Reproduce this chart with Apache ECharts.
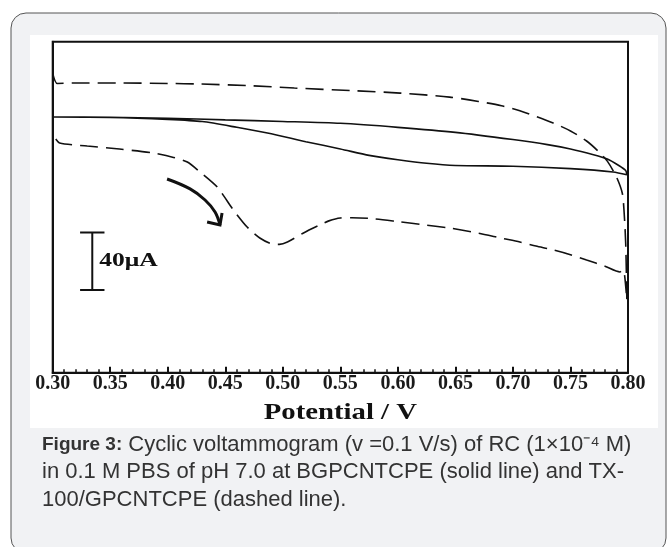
<!DOCTYPE html>
<html>
<head>
<meta charset="utf-8">
<script src="https://cdn.jsdelivr.net/npm/echarts@6/dist/echarts.min.js"></script>
<style>
  html, body { margin: 0; padding: 0; background: #fff; }
  #chart { width: 667px; height: 547px; }
</style>
</head>
<body>
<div id="chart"></div>
<script>
// potential axis (V)
const potentialTicks = [0.30, 0.35, 0.40, 0.45, 0.50, 0.55, 0.60, 0.65, 0.70, 0.75, 0.80];
const axisTitle = 'Potential / V';

// TX-100/GPCNTCPE (dashed): forward sweep then return sweep, [E / V, I / uA]
const dashedForward = [
  [0.300, 78.2], [0.304, 71.0], [0.320, 71.3], [0.360, 71.3], [0.400, 71.0],
  [0.428, 70.6], [0.470, 69.5], [0.510, 67.8], [0.560, 66.0], [0.602, 64.3],
  [0.645, 61.5], [0.670, 58.5], [0.690, 55.5], [0.706, 52.0], [0.735, 43.5],
  [0.750, 38.0], [0.764, 31.0], [0.774, 24.0], [0.782, 17.0], [0.790, 6.0],
  [0.795, -5.1], [0.7965, -16.9], [0.798, -40.0], [0.799, -79.5]
];
const dashedReturn = [
  [0.799, -79.5], [0.797, -62.0], [0.7955, -58.5], [0.793, -60.0], [0.780, -56.0],
  [0.764, -51.7], [0.750, -48.0], [0.735, -44.7], [0.720, -42.0], [0.706, -39.2],
  [0.690, -36.5], [0.670, -33.0], [0.645, -29.5], [0.624, -27.4], [0.600, -25.0],
  [0.576, -22.8], [0.560, -22.3], [0.550, -22.5], [0.540, -24.5], [0.532, -27.4],
  [0.518, -32.9], [0.504, -39.2], [0.497, -40.8], [0.491, -40.6], [0.480, -36.4],
  [0.469, -28.8], [0.457, -16.9], [0.443, -1.0], [0.428, 9.5], [0.417, 16.4],
  [0.405, 19.6], [0.387, 22.7], [0.358, 25.4], [0.330, 27.5], [0.306, 29.6],
  [0.302, 33.0], [0.300, 34.5]
];

// BGPCNTCPE (solid)
const solidForward = [
  [0.300, 47.7], [0.350, 47.5], [0.400, 46.8], [0.450, 45.7], [0.500, 44.6],
  [0.550, 43.3], [0.600, 40.5], [0.650, 37.0], [0.700, 32.0], [0.730, 28.5],
  [0.750, 25.5], [0.770, 21.5], [0.782, 18.5], [0.792, 14.0], [0.798, 10.5]
];
const solidReturn = [
  [0.798, 10.5], [0.799, 7.5], [0.787, 9.5], [0.750, 11.8], [0.700, 13.5],
  [0.650, 14.0], [0.625, 15.5], [0.600, 18.0], [0.575, 21.0], [0.550, 25.5],
  [0.520, 30.5], [0.490, 36.0], [0.460, 40.5], [0.430, 44.5], [0.400, 46.0],
  [0.350, 47.4], [0.300, 47.7]
];

// annotations (data coordinates)
const arrowShaft = [[0.3994, 4.6], [0.4194, -2.3], [0.4324, -10.0], [0.4411, -18.3], [0.4454, -27.4]];
const arrowHead = [[0.4342, -25.3], [0.4454, -27.4], [0.4472, -19.0]];
const scaleBarTop = -32.6;
const scaleBarSize = 40; // uA
const scaleBarX = 0.3344;
const scaleBarLabel = '40μA';

const captionBold = 'Figure 3:';
const captionLines = [
  ' Cyclic voltammogram (v =0.1 V/s) of RC (1×10⁻⁴ M)',
  'in 0.1 M PBS of pH 7.0 at BGPCNTCPE (solid line) and TX-',
  '100/GPCNTCPE (dashed line).'
];

const chartDom = document.getElementById('chart');
const chart = echarts.init(chartDom, null, { renderer: 'canvas' });

const serif = '"Liberation Serif", "Times New Roman", serif';
const sans = '"Liberation Sans", Arial, sans-serif';

const capHalf = 0.0106;
const scaleBarData = [
  [scaleBarX - capHalf, scaleBarTop], [scaleBarX + capHalf, scaleBarTop], null,
  [scaleBarX, scaleBarTop], [scaleBarX, scaleBarTop - scaleBarSize], null,
  [scaleBarX - capHalf, scaleBarTop - scaleBarSize], [scaleBarX + capHalf, scaleBarTop - scaleBarSize]
];

function lineSeries(data, opts) {
  return Object.assign({
    type: 'line',
    data: data,
    showSymbol: false,
    symbol: 'none',
    silent: true,
    animation: false,
    connectNulls: false,
    lineStyle: { color: '#111', width: 1.6 }
  }, opts);
}

const baseGraphic = [
  {
    type: 'rect', z: -10, silent: true,
    shape: { x: 11, y: 13, width: 655, height: 540, r: 15 },
    style: { fill: '#f1f2f4', stroke: '#555', lineWidth: 1 }
  },
  {
    type: 'rect', z: -9, silent: true,
    shape: { x: 30, y: 35, width: 628, height: 393 },
    style: { fill: '#fff' }
  },
  {
    type: 'text', x: 42, y: 431, silent: true,
    style: {
      text: '{b|' + captionBold + '}' + captionLines.join('\n'),
      font: '22px ' + sans,
      fill: '#333',
      lineHeight: 27.5,
      rich: {
        b: { fontWeight: 'bold', fontSize: 19, fontFamily: sans, fill: '#333', lineHeight: 27.5 }
      }
    }
  }
];

const option = {
  animation: false,
  backgroundColor: '#fff',
  graphic: baseGraphic,
  grid: {
    left: 52.7, right: 39, top: 41.7, bottom: 174.3,
    show: true, borderColor: '#111', borderWidth: 2, backgroundColor: 'transparent'
  },
  xAxis: {
    type: 'value',
    min: potentialTicks[0],
    max: potentialTicks[potentialTicks.length - 1],
    interval: 0.05,
    axisLine: { show: true, onZero: false, lineStyle: { color: '#111', width: 2 } },
    axisTick: { show: true, inside: true, length: 6, lineStyle: { color: '#111', width: 2 } },
    minorTick: { show: true, splitNumber: 5, length: 3.5, lineStyle: { color: '#111', width: 1.5 } },
    axisLabel: {
      margin: 1,
      fontFamily: serif, fontWeight: 'bold', fontSize: 20, color: '#1a1a1a',
      formatter: v => v.toFixed(2)
    },
    splitLine: { show: false }
  },
  yAxis: {
    type: 'value',
    min: -130, max: 100,
    axisLine: { show: true, onZero: false, lineStyle: { color: '#111', width: 2 } },
    axisTick: { show: false },
    axisLabel: { show: false },
    splitLine: { show: false }
  },
  series: [
    lineSeries(solidForward.concat(solidReturn), { name: 'BGPCNTCPE', smooth: 0.25 }),
    lineSeries(dashedForward.concat(dashedReturn), {
      name: 'TX-100/GPCNTCPE', smooth: 0.25,
      lineStyle: { color: '#111', width: 1.6, type: [18, 8] }
    }),
    lineSeries(arrowShaft, { smooth: 0.4, lineStyle: { color: '#111', width: 3 } }),
    lineSeries(arrowHead, { lineStyle: { color: '#111', width: 3, join: 'miter' } }),
    lineSeries(scaleBarData, { lineStyle: { color: '#111', width: 2 } })
  ]
};

chart.setOption(option);

// texts of the scanned figure look horizontally stretched; place them from axis coordinates
const labelPos = chart.convertToPixel({ gridIndex: 0 }, [scaleBarX, scaleBarTop - scaleBarSize / 2]);
const titlePos = chart.convertToPixel({ gridIndex: 0 }, [0.55, -130]);
chart.setOption({
  graphic: baseGraphic.concat([
    {
      type: 'text', silent: true,
      x: labelPos[0] + 7, y: labelPos[1], scaleX: 1.42,
      style: { text: scaleBarLabel, font: 'bold 18px ' + serif, fill: '#111', verticalAlign: 'middle' }
    },
    {
      type: 'text', silent: true,
      x: titlePos[0], y: titlePos[1] + 40, scaleX: 1.25,
      style: { text: axisTitle, font: 'bold 23px ' + serif, fill: '#111', align: 'center', verticalAlign: 'middle' }
    }
  ])
});
</script>
</body>
</html>
